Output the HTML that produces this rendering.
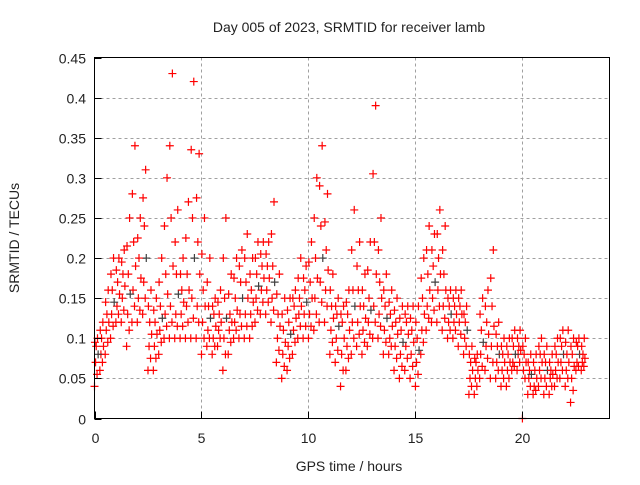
<!DOCTYPE html>
<html><head><meta charset="utf-8"><style>
body{margin:0;background:#fff}
svg text{font-family:"Liberation Sans",sans-serif;font-size:14px;fill:#222}
</style></head><body>
<svg id="chart" width="640" height="480" viewBox="0 0 640 480" xmlns="http://www.w3.org/2000/svg">
<rect width="640" height="480" fill="#fff"/>
<g id="grid"></g>
<g id="marks"></g>
<rect x="94.5" y="57.5" width="515" height="361" fill="none" stroke="#000" stroke-width="1"/>
<g id="axes"></g>
<text x="349" y="32" text-anchor="middle">Day 005 of 2023, SRMTID for receiver lamb</text>
<text x="349" y="471" text-anchor="middle">GPS time / hours</text>
<text transform="translate(19,238) rotate(-90)" text-anchor="middle">SRMTID / TECUs</text>
</svg>
<script>
const xTicks=[0,5,10,15,20];
const yTicks=[0,0.05,0.1,0.15,0.2,0.25,0.3,0.35,0.4,0.45];
const yTickLabels=["0","0.05","0.1","0.15","0.2","0.25","0.3","0.35","0.4","0.45"];
const stepHours=0.25;
const lowVals=[.04,.06,.08,.10,.12,.12,.09,.12,.12,.13,.06,.06,.08,.10,.10,.10,.10,.10,.10,.10,.08,.09,.08,.09,.06,.08,.10,.10,.10,.10,.12,.13,.13,.12,.07,.05,.06,.08,.10,.10,.10,.11,.12,.12,.08,.07,.04,.06,.08,.09,.08,.09,.10,.10,.08,.08,.06,.05,.06,.05,.04,.08,.11,.12,.12,.11,.10,.10,.09,.08,.03,.03,.05,.06,.05,.05,.04,.04,.06,.06,.00,.03,.03,.04,.03,.03,.04,.05,.04,.02,.06,.06];
const lowMidVals=[.055,.07,.095,.115,.13,.135,.11,.14,.135,.15,.075,.075,.095,.115,.12,.115,.115,.12,.125,.12,.10,.10,.09,.10,.08,.095,.11,.115,.115,.115,.135,.145,.145,.135,.085,.065,.075,.095,.115,.115,.115,.13,.145,.14,.095,.085,.06,.075,.10,.105,.095,.105,.12,.115,.095,.09,.075,.065,.075,.065,.055,.095,.125,.135,.14,.125,.11,.11,.105,.09,.04,.04,.065,.075,.07,.06,.05,.05,.065,.07,.05,.04,.035,.05,.04,.04,.05,.06,.05,.035,.065,.065];
const q1Vals=[.07,.08,.11,.13,.14,.15,.13,.16,.15,.17,.09,.09,.11,.13,.14,.13,.13,.14,.15,.14,.12,.11,.10,.11,.10,.11,.12,.13,.13,.13,.15,.16,.16,.15,.10,.08,.09,.11,.13,.13,.13,.15,.17,.16,.11,.10,.08,.09,.12,.12,.11,.12,.14,.13,.11,.10,.09,.08,.09,.08,.07,.11,.14,.15,.16,.14,.12,.12,.12,.10,.05,.05,.08,.09,.09,.07,.06,.06,.07,.08,.06,.05,.04,.06,.05,.05,.06,.07,.06,.05,.07,.07];
const centerVals=[.08,.09,.12,.145,.155,.165,.155,.19,.175,.20,.105,.105,.125,.155,.19,.155,.145,.16,.20,.18,.14,.125,.115,.12,.125,.12,.135,.15,.15,.145,.165,.175,.175,.17,.115,.095,.105,.125,.14,.145,.15,.175,.20,.185,.125,.115,.10,.11,.14,.14,.125,.135,.18,.15,.125,.115,.105,.095,.105,.095,.085,.13,.16,.17,.18,.16,.13,.13,.13,.11,.06,.06,.095,.105,.115,.08,.07,.07,.08,.085,.07,.055,.05,.07,.06,.055,.07,.08,.07,.065,.08,.075];
const q3Vals=[.09,.10,.13,.16,.17,.18,.18,.22,.20,.24,.12,.12,.14,.18,.25,.18,.16,.18,.25,.22,.16,.14,.13,.13,.15,.13,.15,.17,.17,.16,.18,.19,.19,.19,.13,.11,.12,.14,.15,.16,.17,.20,.24,.21,.14,.13,.12,.13,.16,.16,.14,.15,.22,.17,.14,.13,.12,.11,.12,.11,.10,.15,.18,.19,.20,.18,.14,.14,.14,.12,.07,.07,.11,.12,.14,.09,.08,.08,.09,.09,.08,.06,.06,.08,.07,.06,.08,.09,.08,.08,.09,.08];
const upperMidVals=[.095,.11,.145,.18,.185,.195,.215,.28,.225,.275,.14,.135,.17,.24,.34,.22,.18,.225,.335,.275,.205,.17,.14,.145,.20,.155,.175,.19,.20,.18,.20,.205,.205,.23,.155,.13,.135,.15,.175,.175,.195,.25,.29,.245,.16,.14,.13,.145,.21,.19,.16,.185,.305,.21,.16,.145,.135,.125,.13,.125,.12,.175,.21,.21,.23,.21,.15,.15,.15,.13,.08,.075,.13,.14,.175,.105,.09,.09,.10,.10,.09,.07,.07,.09,.08,.07,.09,.10,.095,.09,.095,.09];
const highVals=[.10,.12,.16,.20,.20,.21,.25,.34,.25,.31,.16,.15,.20,.30,.43,.26,.20,.27,.42,.33,.25,.20,.15,.16,.25,.18,.20,.21,.23,.20,.22,.22,.22,.27,.18,.15,.15,.16,.20,.19,.22,.30,.34,.28,.18,.15,.14,.16,.26,.22,.18,.22,.39,.25,.18,.16,.15,.14,.14,.14,.14,.20,.24,.23,.26,.24,.16,.16,.16,.14,.09,.08,.15,.16,.21,.12,.10,.10,.11,.11,.10,.08,.08,.10,.09,.08,.10,.11,.11,.10,.10,.10];
const X0=94.5,X1=609.5,Y0=418.5,Y1=57.5,XMAX=24.07,YMAX=0.45;
const xs=h=>X0+h/XMAX*(X1-X0);
const ys=v=>Y0-v/YMAX*(Y0-Y1);
const NS="http://www.w3.org/2000/svg";
const grid=document.getElementById('grid'),axes=document.getElementById('axes'),marks=document.getElementById('marks');
function mk(tag,attrs,parent){const e=document.createElementNS(NS,tag);for(const k in attrs)e.setAttribute(k,attrs[k]);parent.appendChild(e);return e;}
yTicks.forEach((v,i)=>{
  const y=Math.round(ys(v))+0.5;
  if(i>0&&i<yTicks.length-1){const g=mk('line',{x1:X0,x2:X1,y1:y,y2:y,stroke:'#a0a0a0','stroke-dasharray':'3,3'},grid);
  
  }
  const t=mk('line',{x1:X0,x2:X0+7,y1:y,y2:y,stroke:'#000'},axes);
  
  
  const l=mk('text',{x:86,y:y+5,'text-anchor':'end'},axes);l.textContent=yTickLabels[i];
  
  
});
xTicks.forEach(h=>{
  const x=Math.round(xs(h))+0.5;
  if(h>0){const g=mk('line',{x1:x,x2:x,y1:Y1,y2:Y0,stroke:'#a0a0a0','stroke-dasharray':'3,3'},grid);
  
  }
  const t=mk('line',{x1:x,x2:x,y1:Y0,y2:Y0-7,stroke:'#000'},axes);
  
  
  const l=mk('text',{x:x,y:443,'text-anchor':'middle'},axes);l.textContent=String(h);
  
  
});
function plus(h,v,color){
  const x=xs(h),y=ys(v);
  const p=mk('path',{d:`M${x-4} ${y}H${x+4}M${x} ${y-4}V${y+4}`,stroke:color,'stroke-width':1.2,fill:'none'},marks);
  
  
}
const seriesList=[lowVals,lowMidVals,q1Vals,centerVals,q3Vals,upperMidVals,highVals];
const offsets=[0,0.12,0.05,0.17,0.08,0.02,0.14];
seriesList.forEach((arr,k)=>{
  arr.forEach((v,i)=>{plus(i*stepHours+offsets[k],v,(k===3&&i%3===0)?'#404040':'#ff0000');});
});
</script>
</body></html>
